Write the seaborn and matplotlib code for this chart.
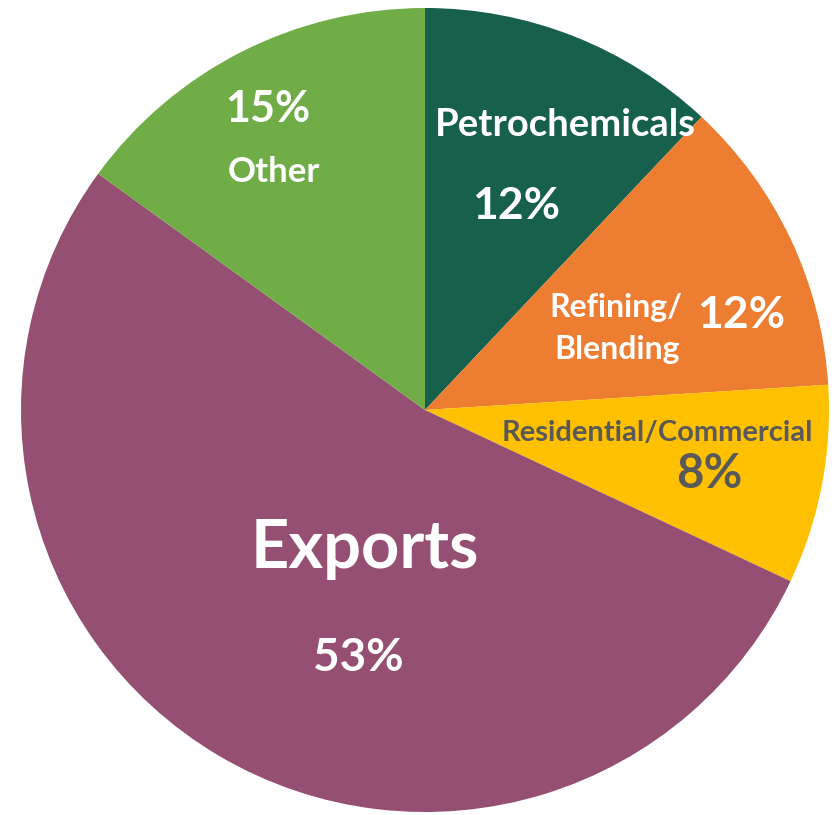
import matplotlib
matplotlib.use('Agg')
import matplotlib.pyplot as plt
import seaborn as sns

# Anteil je Verwendung (%), im Uhrzeigersinn ab 12 Uhr
categories = ['Petrochemicals', 'Refining/Blending', 'Residential/Commercial', 'Exports', 'Other']
shares = [12, 12, 8, 53, 15]
colors = ['#17604B', '#ED7D31', '#FFC000', '#954F72', '#70AD47']

sns.set_theme(style='white')
plt.rcParams['font.family'] = ['Lato', 'DejaVu Sans']

W, H = 837, 815
fig = plt.figure(figsize=(W / 100, H / 100), dpi=100)
# Kreis ist im Original an den Rändern knapp angeschnitten
cx, cy, rx, ry = 425, 410, 404, 402
ax = fig.add_axes([(cx - rx) / W, (H - cy - ry) / H, 2 * rx / W, 2 * ry / H])

ax.pie(shares, colors=sns.color_palette(colors), startangle=90, counterclock=False,
       radius=1, wedgeprops={'linewidth': 0})
ax.set_xlim(-1, 1)
ax.set_ylim(-1, 1)
ax.set_aspect('auto')
ax.axis('off')


def px(x, y):
    return (x - cx) / rx, (cy - y) / ry


GRAY = '#595959'
labels = [
    # text, pixel pos, size, colour
    ('Petrochemicals', (565, 125), 27.5, 'white'),
    ('12%', (516, 206), 32, 'white'),
    ('Refining/', (616, 308), 23, 'white'),
    ('Blending', (617, 350), 23, 'white'),
    ('12%', (741, 315), 32, 'white'),
    ('Residential/Commercial', (657, 433), 21, GRAY),
    ('8%', (709, 474), 34, GRAY),
    ('Exports', (365, 549), 48, 'white'),
    ('53%', (358, 658), 33, 'white'),
    ('15%', (268, 109), 31, 'white'),
    ('Other', (274, 172), 25, 'white'),
]
for txt, (x, y), size, col in labels:
    ax.text(*px(x, y), txt, ha='center', va='center', fontsize=size,
            fontweight='bold', color=col)

fig.savefig('out.png', dpi=100)
